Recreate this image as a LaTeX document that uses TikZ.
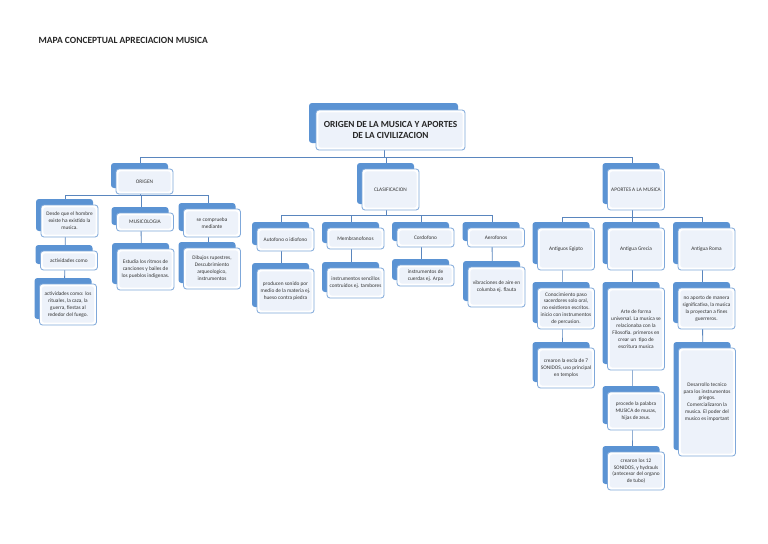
\documentclass[tikz,border=0pt]{standalone}
\usepackage{fontspec}
\setmainfont{Carlito}
\usetikzlibrary{shadows,calc}
\definecolor{cback}{HTML}{5B93D3}
\definecolor{cedge}{HTML}{7FA8DA}
\definecolor{cin}{HTML}{EDF2FA}
\definecolor{cline}{HTML}{5A86BE}
\definecolor{ctext}{HTML}{333333}
\pgfdeclarelayer{bg}
\pgfsetlayers{bg,main}
\tikzset{
  boxbase/.style={draw=cedge, line width=0.6pt, fill=white, rounded corners=2.2pt,
    inner sep=0pt, align=center, text=ctext,
    path picture={\fill[cin] ($(path picture bounding box.south west)+(1.7pt,1.7pt)$) rectangle ($(path picture bounding box.north east)+(-1.7pt,-1.7pt)$);}},
  cbox/.style={boxbase, font=\fontsize{4}{5.2}\selectfont, minimum width=42.75pt,
    minimum height=#1*0.75pt,
    general shadow={fill=cback, shadow xshift=-3.75pt, shadow yshift=4.5pt}},
  rootbox/.style={boxbase, font=\bfseries\fontsize{7}{8.5}\selectfont, text=black!85,
    minimum width=111.75pt, minimum height=30pt,
    general shadow={fill=cback, shadow xshift=-5.25pt, shadow yshift=5.25pt}},
  conn/.style={draw=cline, line width=0.6pt},
}
\begin{document}
\begin{tikzpicture}[x=0.75pt,y=-0.75pt]
\begin{pgfonlayer}{bg}
\fill[white] (0,0) rectangle (768,543);
\end{pgfonlayer}
\node[anchor=west, font=\bfseries\fontsize{7.1}{9}\selectfont, text=black!85] (title) at (34,40) {MAPA CONCEPTUAL APRECIACION MUSICA};

\node[rootbox] (root) at (390.5,130) {ORIGEN DE LA MUSICA Y APORTES\\DE LA CIVILIZACION};

% ORIGEN branch
\node[cbox=25] (origen) at (144.5,181.5) {ORIGEN};
\node[cbox=32] (desde) at (69.5,221) {Desde que el hombre\\existe ha existido la\\musica.};
\node[cbox=18] (musico) at (145,222) {MUSICOLOGIA};
\node[cbox=28] (compr) at (212,223) {se comprueba\\mediante};
\node[cbox=19] (act1) at (69,260.5) {actividades como};
\node[cbox=41] (act2) at (68,304.5) {actividades como: los\\rituales, la caza, la\\guerra, fiestas al\\rededor del fuego.};
\node[cbox=41] (estud) at (145.5,269.5) {Estudia los ritmos de\\canciones y bailes de\\los pueblos indigenas.};
\node[cbox=41] (dibu) at (212,268.5) {Dibujos rupestres,\\Descubrimiento\\arqueologico,\\instrumentos};

% CLASIFICACION branch
\node[cbox=41] (clasif) at (390.5,189.5) {CLASIFICACION};
\node[cbox=23] (auto) at (285.5,239.5) {Autofono o idiofono};
\node[cbox=21] (membr) at (355.5,238.5) {Membranofonos};
\node[cbox=19] (cordo) at (425.5,237.5) {Cordofono};
\node[cbox=19] (aero) at (496,237.5) {Aerofonos};
\node[cbox=44] (produ) at (285.5,291) {producen sonido por\\medio de la materia ej.\\hueso contra piedra};
\node[cbox=30] (senci) at (355.5,283) {instrumentos sencillos\\contruidos ej. tambores};
\node[cbox=21] (cuerd) at (425.5,275.5) {instrumentos de\\cuerdas ej. Arpa};
\node[cbox=40] (vibra) at (496.5,287) {vibraciones de aire en\\columba ej. flauta};

% APORTES branch
\node[cbox=41] (aport) at (636,189.5) {APORTES A LA MUSICA};
\node[cbox=42] (egip) at (566,249) {Antiguos Egipto};
\node[cbox=42] (grec) at (636,249) {Antigua Grecia};
\node[cbox=42] (roma) at (706.5,249) {Antigua Roma};
\node[cbox=41] (conoc) at (566,308.5) {Conocimiento paso\\sacerdores solo oral,\\no existieron escritos.\\inicio con instrumentos\\de percusion.};
\node[cbox=40] (crea7) at (566,368) {crearon la escla de 7\\SONIDOS, uso principal\\en templos};
\node[cbox=82] (arte) at (636,329) {Arte de forma\\universal. La musica se\\relacionaba con la\\Filosofia. primeros en\\crear un\ \ tipo de\\escritura musica};
\node[cbox=41] (noap) at (706.5,308.5) {no aporto de manera\\significativa, la musica\\la proyectan a fines\\guerreros.};
\node[cbox=108] (desa) at (707,402) {Desarrollo tecnico\\para los instrumentos\\griegos.\\Comercializaron la\\musica. El poder del\\musico es important};
\node[cbox=38] (proce) at (636,411) {procede la palabra\\MUSICA de musas,\\hijas de zeus.};
\node[cbox=38] (crea12) at (636,471) {crearon los 12\\SONIDOS, y hydrauls\\(antecesor del organo\\de tubo)};

% connector points
\coordinate (rootC) at ($(root.center)+(-6,0)$);
\foreach \n in {origen,desde,musico,compr,act1,act2,estud,dibu,clasif,auto,membr,cordo,aero,produ,senci,cuerd,vibra,aport,egip,grec,roma,conoc,crea7,arte,noap,desa,proce,crea12}
  \coordinate (\n C) at ($(\n.center)+(-4,0)$);
\coordinate (busA) at (0,157);
\coordinate (busB) at (0,195);
\coordinate (busC) at (0,215);
\coordinate (busD) at (0,217);

\begin{pgfonlayer}{bg}
\draw[conn] (rootC) -- (rootC |- busA);
\draw[conn] (origenC |- busA) -- (aportC |- busA);
\foreach \n in {origen,clasif,aport} \draw[conn] (\n C |- busA) -- (\n C);
% ORIGEN
\draw[conn] (origenC) -- (origenC |- busB);
\draw[conn] (desdeC |- busB) -- (comprC |- busB);
\foreach \n in {desde,musico,compr} \draw[conn] (\n C |- busB) -- (\n C);
\draw[conn] (desdeC) -- (act1C) -- (act2C);
\draw[conn] (musicoC) -- (estudC);
\draw[conn] (comprC) -- (dibuC);
% CLASIFICACION
\draw[conn] (clasifC) -- (clasifC |- busC);
\draw[conn] (autoC |- busC) -- (aeroC |- busC);
\foreach \n in {auto,membr,cordo,aero} \draw[conn] (\n C |- busC) -- (\n C);
\draw[conn] (autoC) -- (produC);
\draw[conn] (membrC) -- (senciC);
\draw[conn] (cordoC) -- (cuerdC);
\draw[conn] (aeroC) -- (vibraC);
% APORTES
\draw[conn] (aportC) -- (aportC |- busD);
\draw[conn] (egipC |- busD) -- (romaC |- busD);
\foreach \n in {egip,grec,roma} \draw[conn] (\n C |- busD) -- (\n C);
\draw[conn] (egipC) -- (conocC) -- (crea7C);
\draw[conn] (grecC) -- (arteC) -- (proceC) -- (crea12C);
\draw[conn] (romaC) -- (noapC) -- (desaC);
\end{pgfonlayer}
\end{tikzpicture}
\end{document}
